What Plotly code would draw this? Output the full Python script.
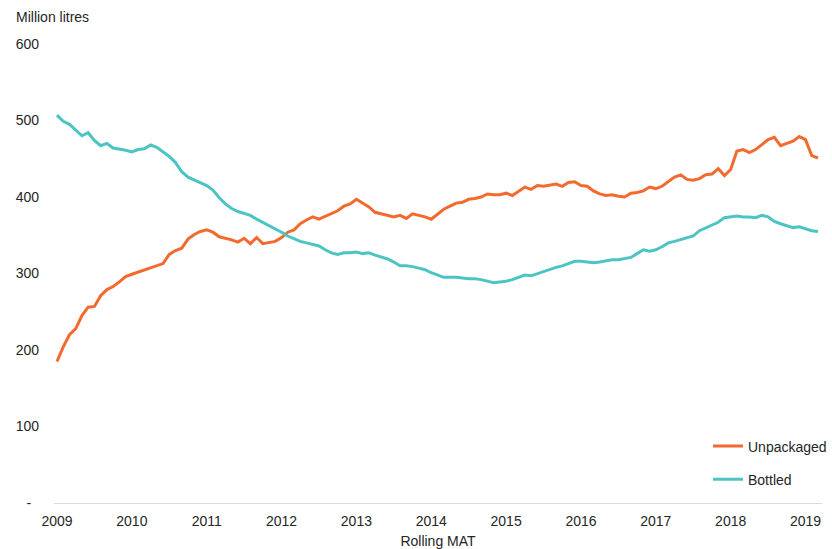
import plotly.graph_objects as go

start_year = 2009
unpackaged = [185, 204, 220, 228, 245, 256, 257, 271, 279, 283, 289, 296,
              299, 302, 305, 308, 311, 313, 325, 330, 333, 345, 351, 355,
              357, 354, 348, 346, 344, 341, 346, 339, 347, 339, 341, 342,
              347, 354, 357, 365, 370, 374, 371, 375, 378, 382, 388, 391,
              397, 392, 387, 380, 378, 376, 374, 376, 372, 378, 376, 374,
              371, 378, 384, 388, 392, 393, 397, 398, 400, 404, 403, 403,
              405, 402, 408, 413, 410, 415, 414, 415, 417, 414, 419, 420,
              415, 414, 408, 404, 402, 403, 401, 400, 405, 406, 408, 413,
              411, 414, 420, 426, 429, 423, 422, 424, 429, 430, 437, 428,
              436, 460, 462, 458, 462, 468, 475, 478, 467, 470, 473, 479,
              475, 454, 451]
bottled = [507, 499, 495, 488, 480, 484, 474, 467, 470, 464, 463, 461,
           459, 462, 463, 468, 465, 459, 453, 445, 433, 426, 422, 418,
           415, 409, 399, 391, 385, 381, 379, 376, 371, 367, 363, 358,
           354, 349, 345, 342, 340, 338, 336, 331, 327, 325, 327, 327,
           328, 326, 327, 324, 322, 319, 315, 310, 310, 309, 307, 305,
           301, 298, 295, 295, 295, 294, 293, 293, 292, 290, 288, 289,
           290, 292, 295, 298, 297, 300, 302, 305, 308, 310, 313, 316,
           316, 315, 314, 315, 317, 318, 318, 320, 321, 326, 331, 329,
           331, 335, 340, 342, 344, 346, 349, 356, 360, 363, 367, 373,
           374, 375, 374, 374, 373, 376, 374, 368, 365, 363, 360, 361,
           358, 356, 355]
months = [start_year + i / 12 for i in range(len(unpackaged))]
year_ticks = list(range(2009, 2020))
y_ticks = [0, 100, 200, 300, 400, 500, 600]
y_ticktext = ["-\u00a0\u00a0", "100", "200", "300", "400", "500", "600"]

FONT = "Liberation Sans, Arial, sans-serif"
TXT = "#262626"

fig = go.Figure()
fig.add_trace(go.Scatter(x=months, y=unpackaged, mode="lines", name="Unpackaged",
                         line=dict(color="#F26A2E", width=3), legendgroup="a"))
fig.add_trace(go.Scatter(x=months, y=bottled, mode="lines", name="Bottled",
                         line=dict(color="#4DC4C4", width=3), legendgroup="b"))

fig.update_layout(
    width=832, height=549,
    margin=dict(l=54, r=0, t=44, b=44),
    paper_bgcolor="white", plot_bgcolor="white",
    font=dict(family=FONT, size=14, color=TXT),
    showlegend=True,
    legend=dict(x=0.852, y=0.158, xanchor="left", yanchor="top",
                bgcolor="rgba(0,0,0,0)", tracegroupgap=12,
                font=dict(size=14, color=TXT), itemwidth=30),
    xaxis=dict(range=[2008.96, 2019.22], tickvals=year_ticks,
               ticktext=[str(y) for y in year_ticks], showgrid=False,
               zeroline=False, showline=True, linecolor="#d9d9d9", linewidth=1,
               ticks="", ticklabelstandoff=5, tickfont=dict(size=14, color=TXT),
               title=dict(text="Rolling MAT", font=dict(size=14, color=TXT), standoff=10)),
    yaxis=dict(range=[0, 600], tickvals=y_ticks, ticktext=y_ticktext,
               showgrid=False, zeroline=False, showline=False, ticks="",
               ticklabelstandoff=14, tickfont=dict(size=14, color=TXT)),
    annotations=[dict(text="Million litres", xref="paper", yref="paper",
                      x=-41/778, y=1 + 27/461, xanchor="left", yanchor="middle",
                      showarrow=False, font=dict(size=14, color=TXT))],
)

fig.write_html("out.html", config={"displayModeBar": False},
               post_script="document.body.style.margin='0';")
